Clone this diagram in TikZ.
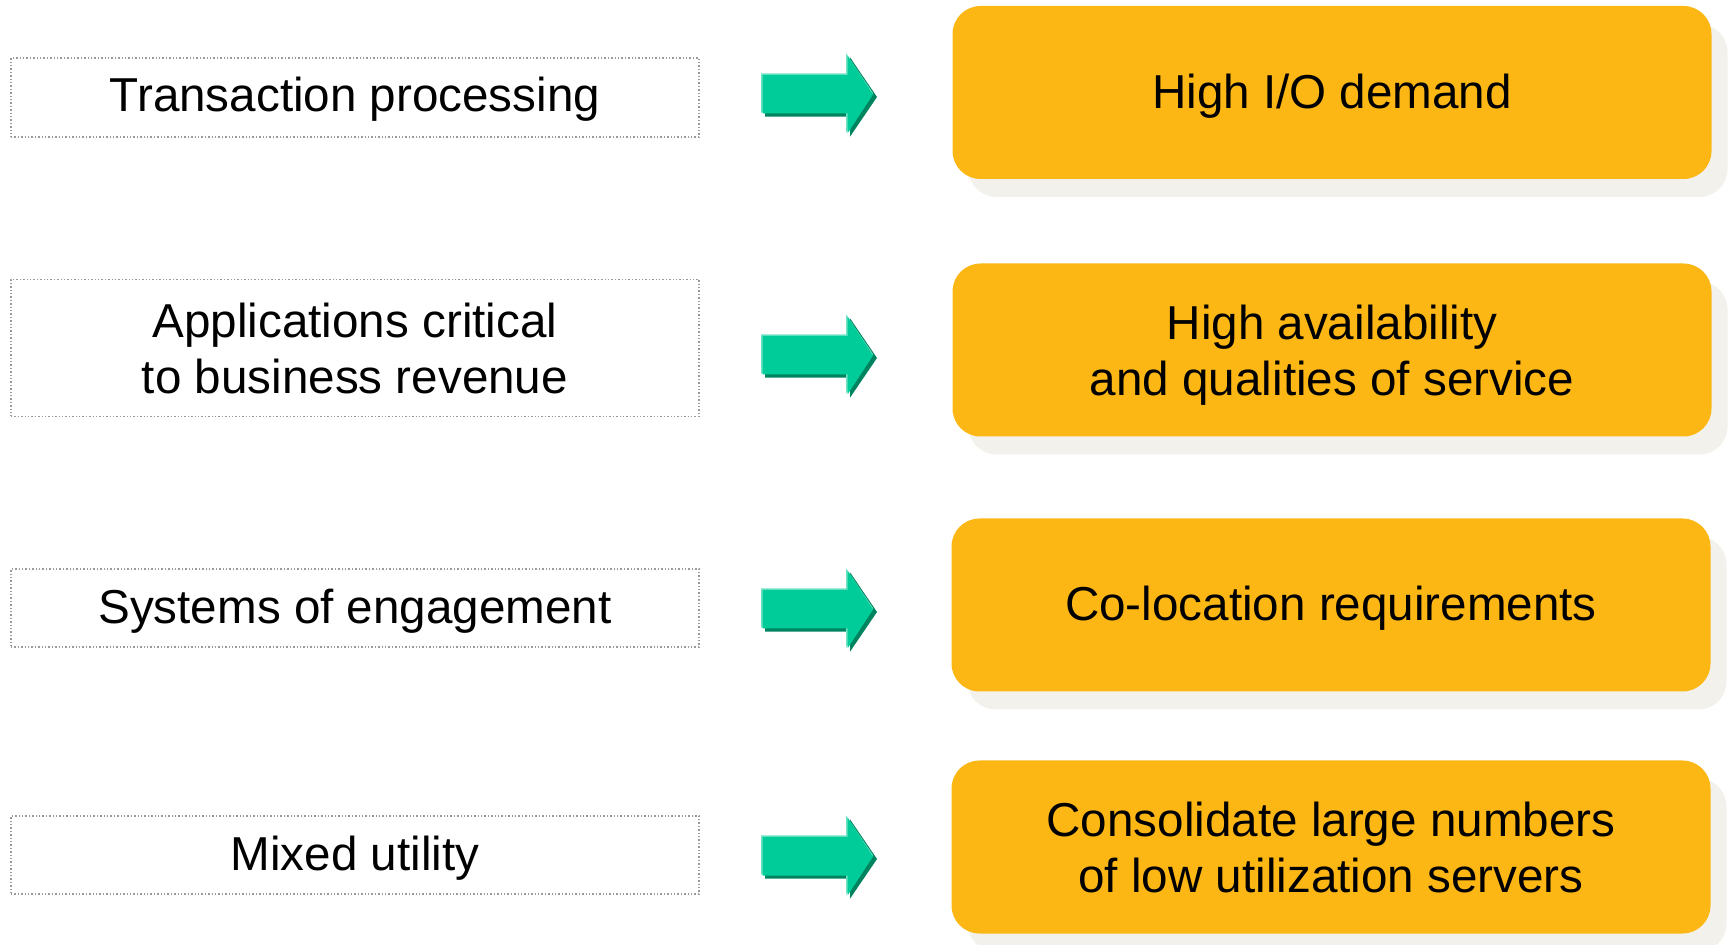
\documentclass[tikz,border=0pt]{standalone}
\usepackage{fontspec}
\setmainfont{Liberation Sans}
\usetikzlibrary{shadows}
\definecolor{boxorange}{HTML}{FCB715}
\definecolor{boxshadow}{HTML}{F2F1EC}
\definecolor{arrgreen}{HTML}{00CC99}
\definecolor{arrdark}{HTML}{00845F}
\definecolor{arrlight}{HTML}{70E3C5}
\definecolor{dotgray}{HTML}{9A9A9A}
\tikzset{
  src/.style={draw=dotgray, densely dotted, line width=0.7pt, fill=white,
    minimum width=344pt, align=center, inner sep=0pt,
    font=\fontsize{23.8}{28}\selectfont},
  res/.style={fill=boxorange, rounded corners=14pt, minimum width=379.5pt,
    minimum height=86.5pt, align=center, inner sep=0pt,
    font=\fontsize{23.8}{28}\selectfont,
    drop shadow={shadow xshift=8pt, shadow yshift=-9pt, fill=boxshadow, opacity=1}},
  pics/blockarrow/.style={code={
    \fill[arrdark] (4,-15.7) -- (89,-15.7) -- (89,-35.7) -- (116,4) -- (89,43.7) -- (89,23.7) -- (4,23.7) -- cycle;
    \fill[arrlight] (0,-19.7) -- (85,-19.7) -- (85,-39.7) -- (112,0) -- (85,39.7) -- (85,19.7) -- (0,19.7) -- cycle;
    \fill[arrgreen] (1.5,-18.2) -- (86.5,-18.2) -- (86.5,-37.5) -- (112,1.5) -- (86.5,40.5) -- (86.5,20.5) -- (1.5,20.5) -- cycle;
  }}
}
\begin{document}
\begin{tikzpicture}[x=0.5pt,y=-0.5pt]
\useasboundingbox (0,0) rectangle (1729,945);
% left boxes
\node[src, minimum height=39.5pt, text depth=2.8pt] (s1) at (355,97.5) {Transaction processing};
\node[src, minimum height=68.5pt] (s2) at (355,348) {Applications critical\\to business revenue};
\node[src, minimum height=39pt, text depth=1.7pt] (s3) at (355,608) {Systems of engagement};
\node[src, minimum height=39pt, text depth=1.7pt] (s4) at (355,855) {Mixed utility};
% right boxes
\node[res, text depth=1.7pt] (r1) at (1332,92.5) {High I/O demand};
\node[res, text depth=-2.8pt] (r2) at (1332,350) {High availability\\and qualities of service};
\node[res, text depth=1.7pt] (r3) at (1331,605) {Co-location requirements};
\node[res] (r4) at (1331,847) {Consolidate large numbers\\of low utilization servers};
% arrows
\pic (a1) at (761,93) {blockarrow};
\pic (a2) at (761,354) {blockarrow};
\pic (a3) at (761,608) {blockarrow};
\pic (a4) at (761,855) {blockarrow};
\end{tikzpicture}
\end{document}
